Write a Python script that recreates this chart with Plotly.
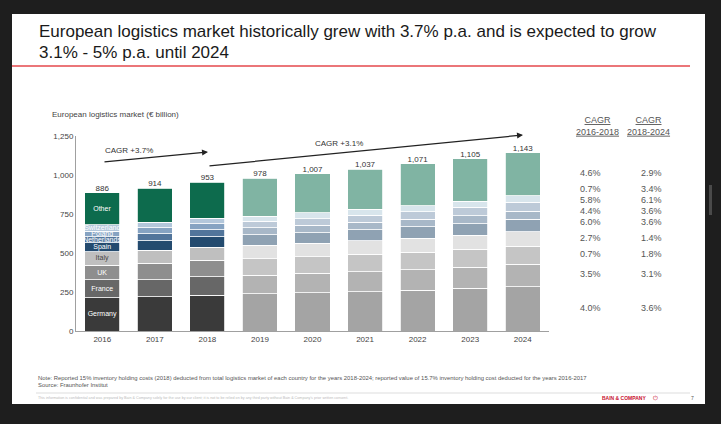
import plotly.graph_objects as go

# ---- data (€ billion) ----
years = ["2016", "2017", "2018", "2019", "2020", "2021", "2022", "2023", "2024"]
countries = ["Germany", "France", "UK", "Italy", "Spain", "Netherlands", "Poland", "Switzerland", "Other"]
germany = [214, 220, 229, 238, 245, 253, 262, 273, 284]
france = [113, 110, 120, 120, 124, 128, 132, 137, 143]
uk = [96, 103, 104, 106, 108, 110, 112, 114, 115]
italy = [86, 85, 84, 86, 86, 87, 88, 89, 95]
spain = [57, 60, 68, 66, 68, 71, 73, 76, 79]
netherlands = [39, 45, 43, 45, 47, 48, 50, 51, 52]
poland = [36, 38, 38, 41, 43, 46, 49, 53, 57]
switzerland = [39, 37, 36, 35, 36, 37, 38, 39, 42]
other = [206, 216, 231, 241, 250, 257, 267, 273, 276]

# CAGR table, listed top (Other) to bottom (Germany)
cagr_2016_2018 = ["4.6%", "0.7%", "5.8%", "4.4%", "6.0%", "2.7%", "0.7%", "3.5%", "4.0%"]
cagr_2018_2024 = ["2.9%", "3.4%", "6.1%", "3.6%", "3.6%", "1.4%", "1.8%", "3.1%", "3.6%"]

series = [germany, france, uk, italy, spain, netherlands, poland, switzerland, other]
n_actual = 3  # 2016-2018 reported, 2019-2024 forecast

actual_colors = ["#3a3a3a", "#676767", "#8e8e8e", "#bfbfbf", "#244b6f",
                 "#52759b", "#86a3c2", "#b3c7db", "#0d6b4d"]
forecast_colors = ["#a4a4a4", "#b3b3b3", "#c5c5c5", "#e2e2e2", "#8fa2b3",
                   "#a8b8c8", "#bdcad8", "#d8e5ec", "#80b4a3"]
label_colors = ["white", "white", "white", "#444444", "white", "white", "white", "white", "white"]

FONT = "Liberation Sans, Arial, sans-serif"

# plot-area geometry in page pixels
L, R, T, B = 76, 549, 136, 331
W, H = 721, 424


def px(x):
    return (x - L) / (R - L)


def py(y):
    return (B - y) / (B - T)


fig = go.Figure()

for i, name in enumerate(countries):
    colors = [actual_colors[i]] * n_actual + [forecast_colors[i]] * (len(years) - n_actual)
    text = [name] + [""] * (len(years) - 1)
    fig.add_trace(go.Bar(
        x=years, y=series[i], name=name,
        marker=dict(color=colors, line=dict(color="white", width=0.8)),
        text=text, textposition="inside", insidetextanchor="middle",
        textangle=0, constraintext="none",
        textfont=dict(size=7, color=label_colors[i], family=FONT),
        hoverinfo="skip",
    ))

totals = [sum(v) for v in zip(*series)]
fig.add_trace(go.Scatter(
    x=years, y=totals, mode="text",
    text=[f"{t:,}" for t in totals], textposition="top center",
    textfont=dict(size=8, color="#333333", family=FONT),
    hoverinfo="skip", cliponaxis=False,
))

shapes = [
    # white slide on a dark frame
    dict(type="rect", xref="paper", yref="paper", x0=px(12), x1=px(705), y0=py(404), y1=py(14),
         fillcolor="white", line=dict(width=0), layer="below"),
    # red rule under the headline
    dict(type="line", xref="paper", yref="paper", x0=px(12), x1=px(690), y0=py(66), y1=py(66),
         line=dict(color="#e4484d", width=1.5)),
    # footer rule
    dict(type="line", xref="paper", yref="paper", x0=px(36), x1=px(690), y0=py(393), y1=py(393),
         line=dict(color="#c8c8c8", width=0.6)),
    # scroll marker at the right edge
    dict(type="rect", xref="paper", yref="paper", x0=px(709), x1=px(712), y0=py(215), y1=py(185),
         fillcolor="#4a4a4a", line=dict(width=0)),
]

ann = []


def text_at(x, y, s, size, color="#333333", xanchor="left", **kw):
    ann.append(dict(x=px(x), y=py(y), xref="paper", yref="paper", text=s, showarrow=False,
                    xanchor=xanchor, yanchor="middle",
                    font=dict(size=size, color=color, family=FONT), **kw))


# headline
text_at(37, 32, "European logistics market historically grew with 3.7% p.a. and is expected to grow", 17, "#1a1a1a")
text_at(37, 52, "3.1% - 5% p.a. until 2024", 17, "#1a1a1a")

# chart caption
text_at(50, 114, "European logistics market (€ billion)", 8, "#444444")

# CAGR arrows
for head, tail in [((208, 152), (103, 162)), ((523, 135), (208, 166))]:
    ann.append(dict(x=px(head[0]), y=py(head[1]), xref="paper", yref="paper",
                    ax=tail[0] - head[0], ay=tail[1] - head[1], text="",
                    showarrow=True, arrowhead=2, arrowsize=1, arrowwidth=1.2,
                    arrowcolor="#222222"))
text_at(129, 150, "CAGR +3.7%", 8, "#333333", xanchor="center")
text_at(339, 143, "CAGR +3.1%", 8, "#333333", xanchor="center")

# CAGR table
text_at(597, 126, "<u>CAGR</u><br><u>2016-2018</u>", 9, "#555555", xanchor="center")
text_at(648, 126, "<u>CAGR</u><br><u>2018-2024</u>", 9, "#555555", xanchor="center")
row_y = [173, 189, 200, 211, 222, 238, 254, 274, 308]
for yy, a, b in zip(row_y, cagr_2016_2018, cagr_2018_2024):
    text_at(590, yy, a, 9, "#555555", xanchor="center")
    text_at(651, yy, b, 9, "#555555", xanchor="center")

# notes and footer
text_at(36, 378, "Note: Reported 15% inventory holding costs (2018) deducted from total logistics market of each "
                 "country for the years 2018-2024; reported value of 15.7% inventory holding cost deducted for the years 2016-2017",
        5.9, "#555555")
text_at(36, 385, "Source: Fraunhofer Institut", 5.9, "#555555")
text_at(36, 398, "This information is confidential and was prepared by Bain & Company solely for the use by our client; "
                 "it is not to be relied on by any third party without Bain & Company's prior written consent.",
        3.7, "#bbbbbb")
text_at(648, 398, "<b>BAIN & COMPANY</b>", 5, "#c8102e", xanchor="right")
text_at(655, 398, "\u23FB", 6, "#c8102e", xanchor="center")
text_at(692, 398, "7", 5, "#555555", xanchor="center")

fig.update_layout(
    barmode="stack", bargap=1 / 3,
    width=W, height=H, autosize=False,
    margin=dict(l=L, r=W - R, t=T, b=H - B, pad=0),
    paper_bgcolor="#1e1e1e", plot_bgcolor="white",
    showlegend=False,
    font=dict(family=FONT, color="#444444"),
    shapes=shapes, annotations=ann,
    xaxis=dict(type="category", showgrid=False, showline=True, linecolor="#a0a0a0", linewidth=1,
               ticks="", tickfont=dict(size=8, color="#444444"), fixedrange=True),
    yaxis=dict(range=[0, 1250], tickvals=[0, 250, 500, 750, 1000, 1250], tickformat=",",
               showgrid=False, zeroline=False, showline=True, linecolor="#a0a0a0", linewidth=1,
               ticks="", tickfont=dict(size=8, color="#444444"), fixedrange=True),
)

fig.write_html("out.html")
